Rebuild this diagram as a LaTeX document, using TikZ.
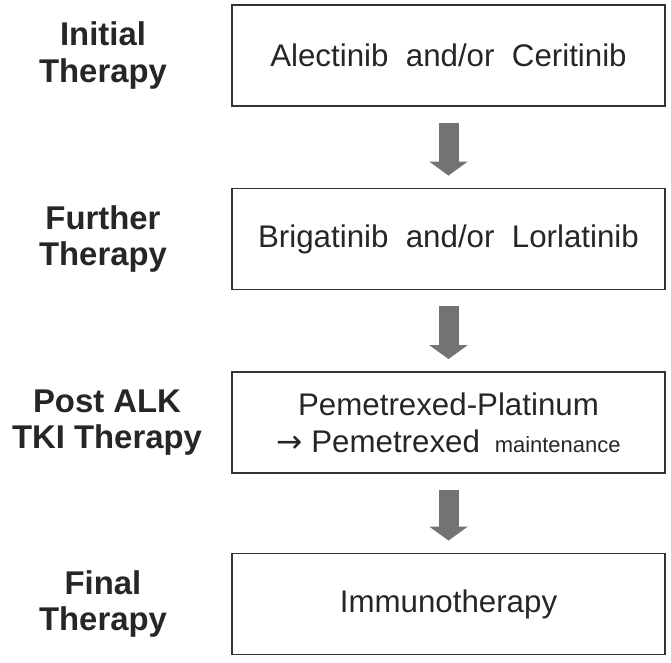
\documentclass[tikz,border=0pt]{standalone}
\usepackage{fontspec}
\setmainfont{Liberation Sans}
\newfontfamily\pilfont{DejaVu Sans}
\usetikzlibrary{arrows.meta}

\tikzset{
  therapybox/.style={draw=black!80,line width=1.1pt,minimum width=8.66cm,minimum height=2.02cm,
    text=black!85,font=\fontsize{17.8}{21}\selectfont,align=center,inner sep=0pt},
  phaselabel/.style={text=black!85,font=\bfseries\fontsize{18.7}{20.5}\selectfont,align=center},
  bigarrow/.style={draw=black!55,line width=0.4cm,shorten <=0.32cm,shorten >=0.24cm,
    -{Triangle[width=0.76cm,length=0.28cm,fill=black!55]}}
}

\begin{document}
\begin{tikzpicture}
  %rammen
  	\useasboundingbox (0,0) rectangle (13.42,-13.24);
  	
  %boksene
  	\node[therapybox] (b1) at (8.97,-1.11) {Alectinib~~and/or~~Ceritinib};
  	\node[therapybox] (b2) at (8.97,-4.78) {Brigatinib~~and/or~~Lorlatinib};
  	\node[therapybox] (b3) at (8.97,-8.45) {Pemetrexed-Platinum\\ {\pilfont →} Pemetrexed {\fontsize{12.5}{14}\selectfont\ maintenance}};
  	\node[therapybox] (b4) at (8.97,-12.08) {Immunotherapy};
  	
  %overskrifter
  	\node[phaselabel] (l1) at (2.06,-1.11) {Initial\\Therapy};
  	\node[phaselabel] (l2) at (2.06,-4.78) {Further\\Therapy};
  	\node[phaselabel] (l3) at (2.14,-8.45) {Post ALK\\TKI Therapy};
  	\node[phaselabel] (l4) at (2.06,-12.08) {Final\\Therapy};
  	
  %pilene
  	\draw[bigarrow] (b1) -- (b2);
  	\draw[bigarrow] (b2) -- (b3);
  	\draw[bigarrow] (b3) -- (b4);
\end{tikzpicture}
\end{document}
